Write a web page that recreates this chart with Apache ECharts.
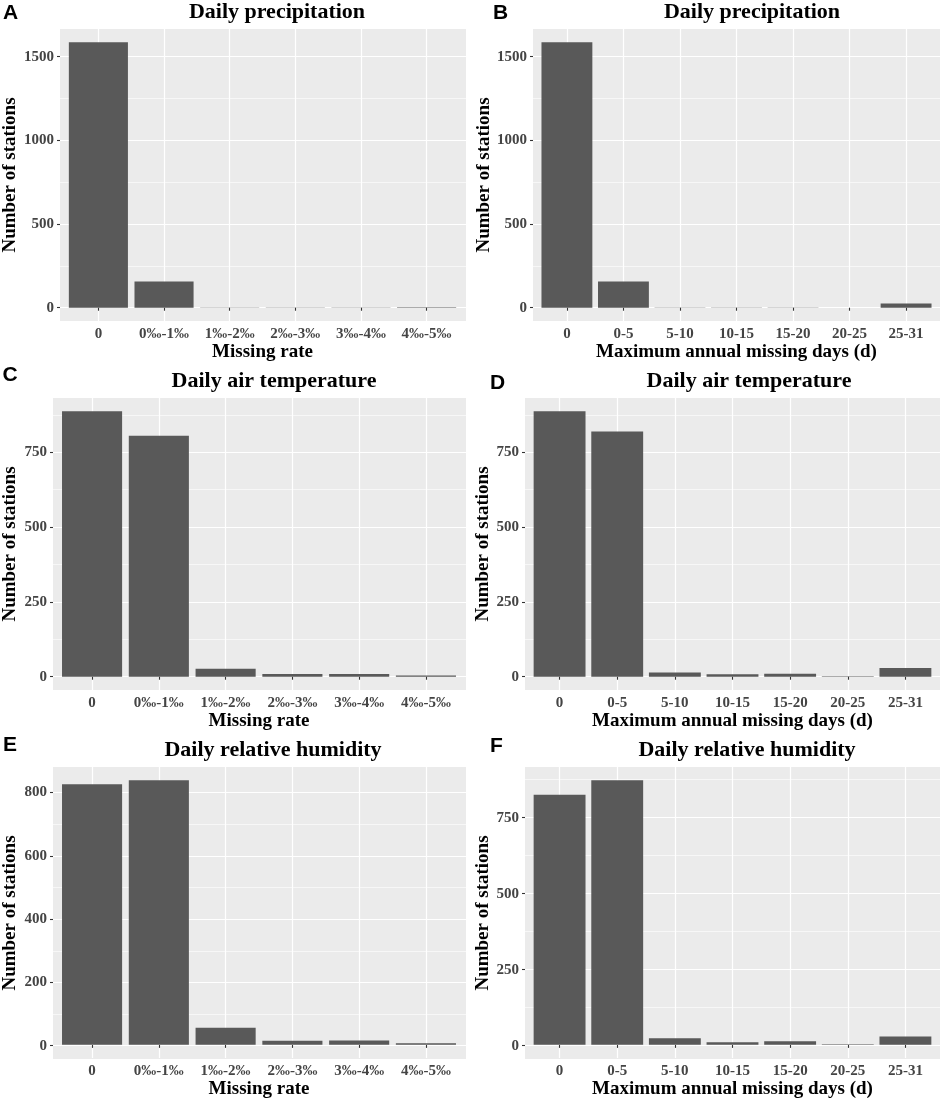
<!DOCTYPE html>
<html>
<head>
<meta charset="utf-8">
<script src="https://cdn.jsdelivr.net/npm/echarts@6/dist/echarts.min.js"></script>
<style>
html, body { margin: 0; padding: 0; background: #fff; }
#main { width: 941px; height: 1100px; }
</style>
</head>
<body>
<div id="main"></div>
<script>
// categories
var rateCats = ['0', '0‰-1‰', '1‰-2‰', '2‰-3‰', '3‰-4‰', '4‰-5‰'];
var dayCats = ['0', '0-5', '5-10', '10-15', '15-20', '20-25', '25-31'];

// number of stations per class
var precipRate = [1586, 156, 2, 2, 1, 3];
var precipDays = [1586, 156, 2, 2, 2, 0, 26];
var tempRate = [887, 805, 27, 9, 9, 4];
var tempDays = [887, 819, 14, 8, 10, 2, 29];
var humRate = [826, 839, 54, 13, 14, 5];
var humDays = [825, 873, 22, 9, 12, 2, 28];

// y tick labels (major) and minor grid lines
var precipTicks = [0, 500, 1000, 1500];
var precipMinor = [250, 750, 1250];
var tempTicks = [0, 250, 500, 750];
var tempMinor = [125, 375, 625, 875];
var humRateTicks = [0, 200, 400, 600, 800];
var humRateMinor = [100, 300, 500, 700];
var humDaysTicks = [0, 250, 500, 750];
var humDaysMinor = [125, 375, 625, 875];

var myChart = echarts.init(document.getElementById('main'));

var serif = '"Liberation Serif", "Times New Roman", serif';
var sans = '"Liberation Sans", Arial, sans-serif';

var panels = [
    { letter: 'A', lx: 10.5, ly: 13, title: 'Daily precipitation', tx: 277, ty: 12,
      cats: rateCats, data: precipRate, ticks: precipTicks, minor: precipMinor, xName: 'Missing rate',
      left: 59, top: 29, width: 407, height: 292, yGap: 40 },
    { letter: 'B', lx: 500.5, ly: 13, title: 'Daily precipitation', tx: 752, ty: 12,
      cats: dayCats, data: precipDays, ticks: precipTicks, minor: precipMinor, xName: 'Maximum annual missing days (d)',
      left: 533, top: 29, width: 407, height: 292, yGap: 39 },
    { letter: 'C', lx: 10, ly: 375, title: 'Daily air temperature', tx: 274, ty: 381,
      cats: rateCats, data: tempRate, ticks: tempTicks, minor: tempMinor, xName: 'Missing rate',
      left: 52, top: 398, width: 414, height: 292, yGap: 33 },
    { letter: 'D', lx: 497.5, ly: 383, title: 'Daily air temperature', tx: 749, ty: 381,
      cats: dayCats, data: tempDays, ticks: tempTicks, minor: tempMinor, xName: 'Maximum annual missing days (d)',
      left: 525, top: 398, width: 415, height: 292, yGap: 31 },
    { letter: 'E', lx: 10, ly: 745, title: 'Daily relative humidity', tx: 273, ty: 750,
      cats: rateCats, data: humRate, ticks: humRateTicks, minor: humRateMinor, xName: 'Missing rate',
      left: 52, top: 767, width: 414, height: 292, yGap: 33 },
    { letter: 'F', lx: 496.5, ly: 746, title: 'Daily relative humidity', tx: 747, ty: 750,
      cats: dayCats, data: humDays, ticks: humDaysTicks, minor: humDaysMinor, xName: 'Maximum annual missing days (d)',
      left: 525, top: 767, width: 415, height: 292, yGap: 31 }
];

var option = {
    animation: false,
    backgroundColor: '#fff',
    grid: [],
    xAxis: [],
    yAxis: [],
    series: [],
    graphic: []
};

panels.forEach(function (p, i) {
    var n = p.cats.length;
    // ggplot pads a discrete axis by 0.6 of a category on each side
    var inset = 0.1 * p.width / (n + 0.2);
    var top = Math.max.apply(null, p.data);
    var yMin = -0.05 * top;
    var yMax = 1.05 * top;

    option.grid.push({
        left: p.left, top: p.top, width: p.width, height: p.height,
        show: true, backgroundColor: '#EBEBEB', borderWidth: 0
    });
    option.grid.push({
        left: p.left + inset, top: p.top, width: p.width - 2 * inset, height: p.height
    });

    option.xAxis.push({ gridIndex: 2 * i, type: 'value', show: false, min: 0, max: 1 });
    option.xAxis.push({
        gridIndex: 2 * i + 1,
        type: 'category',
        data: p.cats,
        boundaryGap: true,
        name: p.xName,
        nameLocation: 'middle',
        nameGap: 19,
        nameTextStyle: { fontFamily: serif, fontWeight: 'bold', fontSize: 19, color: '#000' },
        axisLine: { show: false },
        axisTick: { show: true, alignWithLabel: true, interval: 0, length: 3, lineStyle: { color: '#333', width: 1.1 } },
        axisLabel: { interval: 0, margin: 6, fontFamily: serif, fontWeight: 'bold', fontSize: 15, color: '#444' },
        splitLine: { show: true, alignWithLabel: true, interval: 0, lineStyle: { color: '#fff', width: 1.2 } }
    });

    option.yAxis.push({
        gridIndex: 2 * i,
        type: 'value',
        min: yMin,
        max: yMax,
        name: 'Number of stations',
        nameLocation: 'middle',
        nameGap: p.yGap,
        nameTextStyle: { fontFamily: serif, fontWeight: 'bold', fontSize: 19, color: '#000' },
        axisLine: { show: false },
        axisTick: { show: true, length: 3, customValues: p.ticks, lineStyle: { color: '#333', width: 1.1 } },
        axisLabel: {
            customValues: p.ticks, margin: 6,
            formatter: function (v) { return String(Math.round(v)); },
            fontFamily: serif, fontWeight: 'bold', fontSize: 15, color: '#444'
        },
        splitLine: { show: true, lineStyle: { color: '#fff', width: 1.2 } }
    });
    option.yAxis.push({
        gridIndex: 2 * i,
        type: 'value',
        min: yMin,
        max: yMax,
        axisLine: { show: false },
        axisTick: { show: false, customValues: p.minor },
        axisLabel: { show: false },
        splitLine: { show: true, lineStyle: { color: '#fff', width: 0.6 } }
    });
    option.yAxis.push({ gridIndex: 2 * i + 1, type: 'value', show: false, min: yMin, max: yMax });

    option.series.push({
        type: 'bar',
        xAxisIndex: 2 * i + 1,
        yAxisIndex: 3 * i + 2,
        data: p.data,
        barCategoryGap: '10%',
        itemStyle: { color: '#595959' },
        silent: true
    });

    option.graphic.push({
        type: 'text', x: p.tx, y: p.ty,
        style: {
            text: p.title, fill: '#000',
            fontFamily: serif, fontWeight: 'bold', fontSize: 22,
            align: 'center', verticalAlign: 'middle',
            textAlign: 'center', textVerticalAlign: 'middle'
        }
    });
    option.graphic.push({
        type: 'text', x: p.lx, y: p.ly,
        style: {
            text: p.letter, fill: '#000',
            fontFamily: sans, fontWeight: 'bold', fontSize: 21,
            align: 'center', verticalAlign: 'middle',
            textAlign: 'center', textVerticalAlign: 'middle'
        }
    });
});

myChart.setOption(option);
</script>
</body>
</html>
